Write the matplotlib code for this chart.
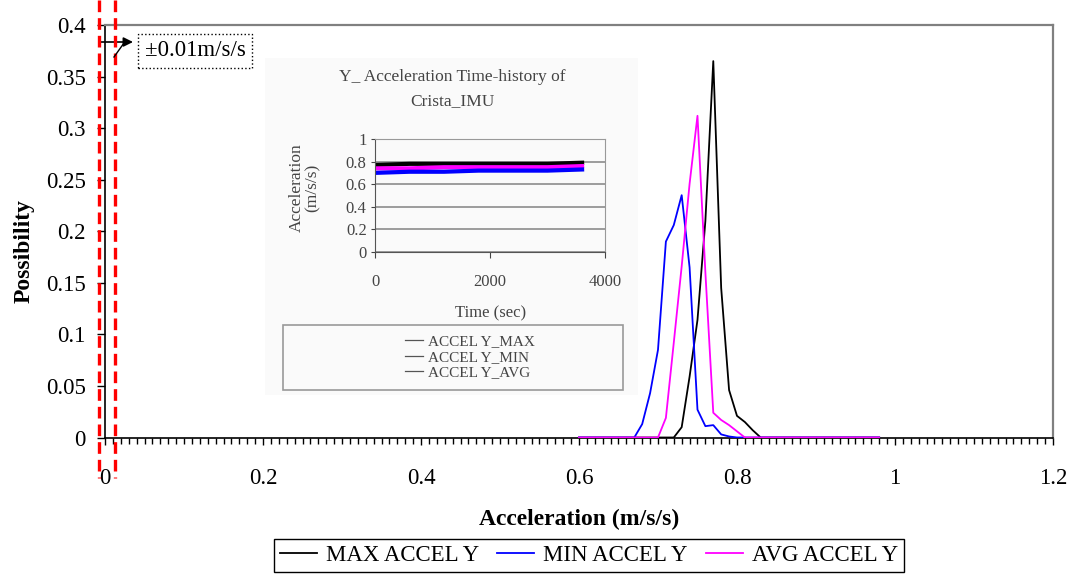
import numpy as np
import matplotlib
matplotlib.use("Agg")
import matplotlib.pyplot as plt
from matplotlib.patches import Rectangle
from matplotlib.lines import Line2D
from matplotlib.ticker import MultipleLocator
from matplotlib.transforms import blended_transform_factory

plt.rcParams['font.family'] = ['Liberation Serif', 'DejaVu Serif']

# acceleration bins (m/s/s)
accel = [0.60, 0.61, 0.62, 0.63, 0.64, 0.65, 0.66, 0.67, 0.68, 0.69,
         0.70, 0.71, 0.72, 0.73, 0.74, 0.75, 0.76, 0.77, 0.78, 0.79,
         0.80, 0.81, 0.82, 0.83, 0.84, 0.85, 0.86, 0.87, 0.88, 0.89,
         0.90, 0.91, 0.92, 0.93, 0.94, 0.95, 0.96, 0.97, 0.98]

# possibility of each bin
max_p = [0] * 13 + [0.010, 0.059, 0.114, 0.210, 0.365, 0.145, 0.046, 0.021, 0.015, 0.007] + [0] * 16
min_p = [0] * 8 + [0.013, 0.043, 0.085, 0.190, 0.206, 0.235, 0.165, 0.027, 0.011, 0.012, 0.003, 0.001] + [0] * 19
avg_p = [0] * 11 + [0.019, 0.092, 0.166, 0.246, 0.312, 0.160, 0.024, 0.017, 0.012, 0.006] + [0] * 18

x_ticks = [0, 0.2, 0.4, 0.6, 0.8, 1.0, 1.2]
x_labels = ['0', '0.2', '0.4', '0.6', '0.8', '1', '1.2']
y_ticks = [0, 0.05, 0.1, 0.15, 0.2, 0.25, 0.3, 0.35, 0.4]
y_labels = ['0', '0.05', '0.1', '0.15', '0.2', '0.25', '0.3', '0.35', '0.4']

# inset: time history
t_sec = [0, 600, 1200, 1800, 2400, 3000, 3600]
y_max = [0.77, 0.78, 0.78, 0.78, 0.78, 0.78, 0.79]
y_avg = [0.74, 0.74, 0.75, 0.75, 0.75, 0.75, 0.76]
y_min = [0.70, 0.71, 0.71, 0.72, 0.72, 0.72, 0.73]

# tolerance marks drawn on the chart
tol_lines = [-0.0075, 0.0125]

fig = plt.figure(figsize=(10.74, 5.74), dpi=100)
ax = fig.add_axes([0.0978, 0.2378, 0.8826, 0.7186])

# light background of the pasted inset picture
ax.add_patch(Rectangle((265 / 1074, 1 - 395 / 574), 373 / 1074, 337 / 574,
                       transform=fig.transFigure, facecolor='#fafafa',
                       edgecolor='none', zorder=0.5, clip_on=False))

ax.plot(accel, max_p, color='black', lw=1.3, label='MAX ACCEL Y', zorder=3)
ax.plot(accel, min_p, color='#0000ff', lw=1.3, label='MIN ACCEL Y', zorder=3)
ax.plot(accel, avg_p, color='#ff00ff', lw=1.3, label='AVG ACCEL Y', zorder=3)

ax.set_xlim(0, 1.2)
ax.set_ylim(0, 0.4)
ax.set_xticks(x_ticks)
ax.set_xticklabels(x_labels)
ax.set_yticks(y_ticks)
ax.set_yticklabels(y_labels)
ax.xaxis.set_minor_locator(MultipleLocator(0.01))
ax.tick_params(axis='x', which='major', direction='out', length=5, width=1, pad=17, labelsize=16.5)
ax.tick_params(axis='x', which='minor', direction='out', length=4, width=1)
ax.tick_params(axis='y', which='major', direction='out', length=6, width=1, pad=8, labelsize=16.5)
for s in ['left', 'bottom']:
    ax.spines[s].set_color('black')
    ax.spines[s].set_linewidth(1.2)
for s in ['top', 'right']:
    ax.spines[s].set_color('#808080')
    ax.spines[s].set_linewidth(1.6)

ax.set_xlabel('Acceleration (m/s/s)', fontsize=17, fontweight='bold', labelpad=14)
fig.text(0.022, 0.5626, 'Possibility', rotation=90, fontsize=17, fontweight='bold',
         ha='center', va='center')

fig.legend(loc='center', bbox_to_anchor=(0.5484, 0.0322), ncol=3, fontsize=16.5,
           frameon=True, fancybox=False, edgecolor='black', framealpha=1,
           handlelength=1.6, handletextpad=0.4, columnspacing=0.8, borderpad=0.25)

# red dashed tolerance lines (run beyond the plot area)
trans = blended_transform_factory(ax.transData, fig.transFigure)
for xv in tol_lines:
    ax.add_line(Line2D([xv, xv], [1.0, 1 - 478 / 574], transform=trans, color='#ff0000',
                       lw=2.4, linestyle=(0, (3.5, 1.8)), clip_on=False, zorder=5))

# annotation arrow and label
fig.add_artist(Line2D([114 / 1074, 124 / 1074], [1 - 57 / 574, 1 - 43 / 574],
                      transform=fig.transFigure, color='black', lw=1))
ax.annotate('', xy=(133 / 1074, 1 - 42 / 574), xytext=(100 / 1074, 1 - 42 / 574),
            xycoords='figure fraction', textcoords='figure fraction',
            arrowprops=dict(arrowstyle='-|>', color='black', lw=1.2, mutation_scale=14,
                            shrinkA=0, shrinkB=0))
fig.text(195 / 1074, 1 - 51 / 574, '\u00b10.01m/s/s', fontsize=16.5, ha='center', va='center',
         bbox=dict(boxstyle='square,pad=0.3', facecolor='white', edgecolor='black',
                   linestyle=':', lw=1))

# inset time history chart
axi = fig.add_axes([0.3492, 0.561, 0.2142, 0.1969])
axi.set_facecolor('none')
axi.plot(t_sec, y_max, color='black', lw=3)
axi.plot(t_sec, y_avg, color='#ff00ff', lw=3)
axi.plot(t_sec, y_min, color='#0000ff', lw=3)
axi.set_xlim(0, 4000)
axi.set_ylim(0, 1)
axi.set_xticks([0, 2000, 4000])
axi.set_yticks([0, 0.2, 0.4, 0.6, 0.8, 1])
axi.set_yticklabels(['0', '0.2', '0.4', '0.6', '0.8', '1'])
axi.yaxis.grid(True, color='#8c8c8c', lw=1.2)
axi.set_axisbelow(True)
axi.tick_params(axis='x', direction='out', length=4, pad=12, labelsize=12, colors='#444444')
axi.tick_params(axis='y', direction='out', length=3, pad=3, labelsize=12, colors='#444444')
for s in ['left', 'bottom']:
    axi.spines[s].set_color('#555555')
for s in ['top', 'right']:
    axi.spines[s].set_color('#999999')
axi.set_xlabel('Time (sec)', fontsize=12, color='#444444', labelpad=11)

fig.text(452 / 1074, 1 - 77 / 574, 'Y_ Acceleration Time-history of', fontsize=12.5,
         color='#444444', ha='center', va='center')
fig.text(452 / 1074, 1 - 101 / 574, 'Crista_IMU', fontsize=12.5,
         color='#444444', ha='center', va='center')
fig.text(305 / 1074, 1 - 188 / 574, 'Acceleration\n(m/s/s)', fontsize=12.5, color='#444444',
         rotation=90, ha='center', va='center', linespacing=1.0)

# inset legend box
fig.add_artist(Rectangle((283 / 1074, 1 - 390 / 574), 340 / 1074, 65 / 574,
                         transform=fig.transFigure, facecolor='none',
                         edgecolor='#999999', lw=1.2))
inset_handles = [Line2D([], [], color='#555555', lw=0.9),
                 Line2D([], [], color='#555555', lw=0.9),
                 Line2D([], [], color='#555555', lw=0.9)]
leg2 = fig.legend(inset_handles, ['ACCEL Y_MAX', 'ACCEL Y_MIN', 'ACCEL Y_AVG'],
                  loc='center', bbox_to_anchor=(470 / 1074, 1 - 357 / 574), frameon=False,
                  fontsize=11, handlelength=1.2, handletextpad=0.3, labelspacing=0.12,
                  labelcolor='#444444')

fig.savefig('out.png', dpi=100)
